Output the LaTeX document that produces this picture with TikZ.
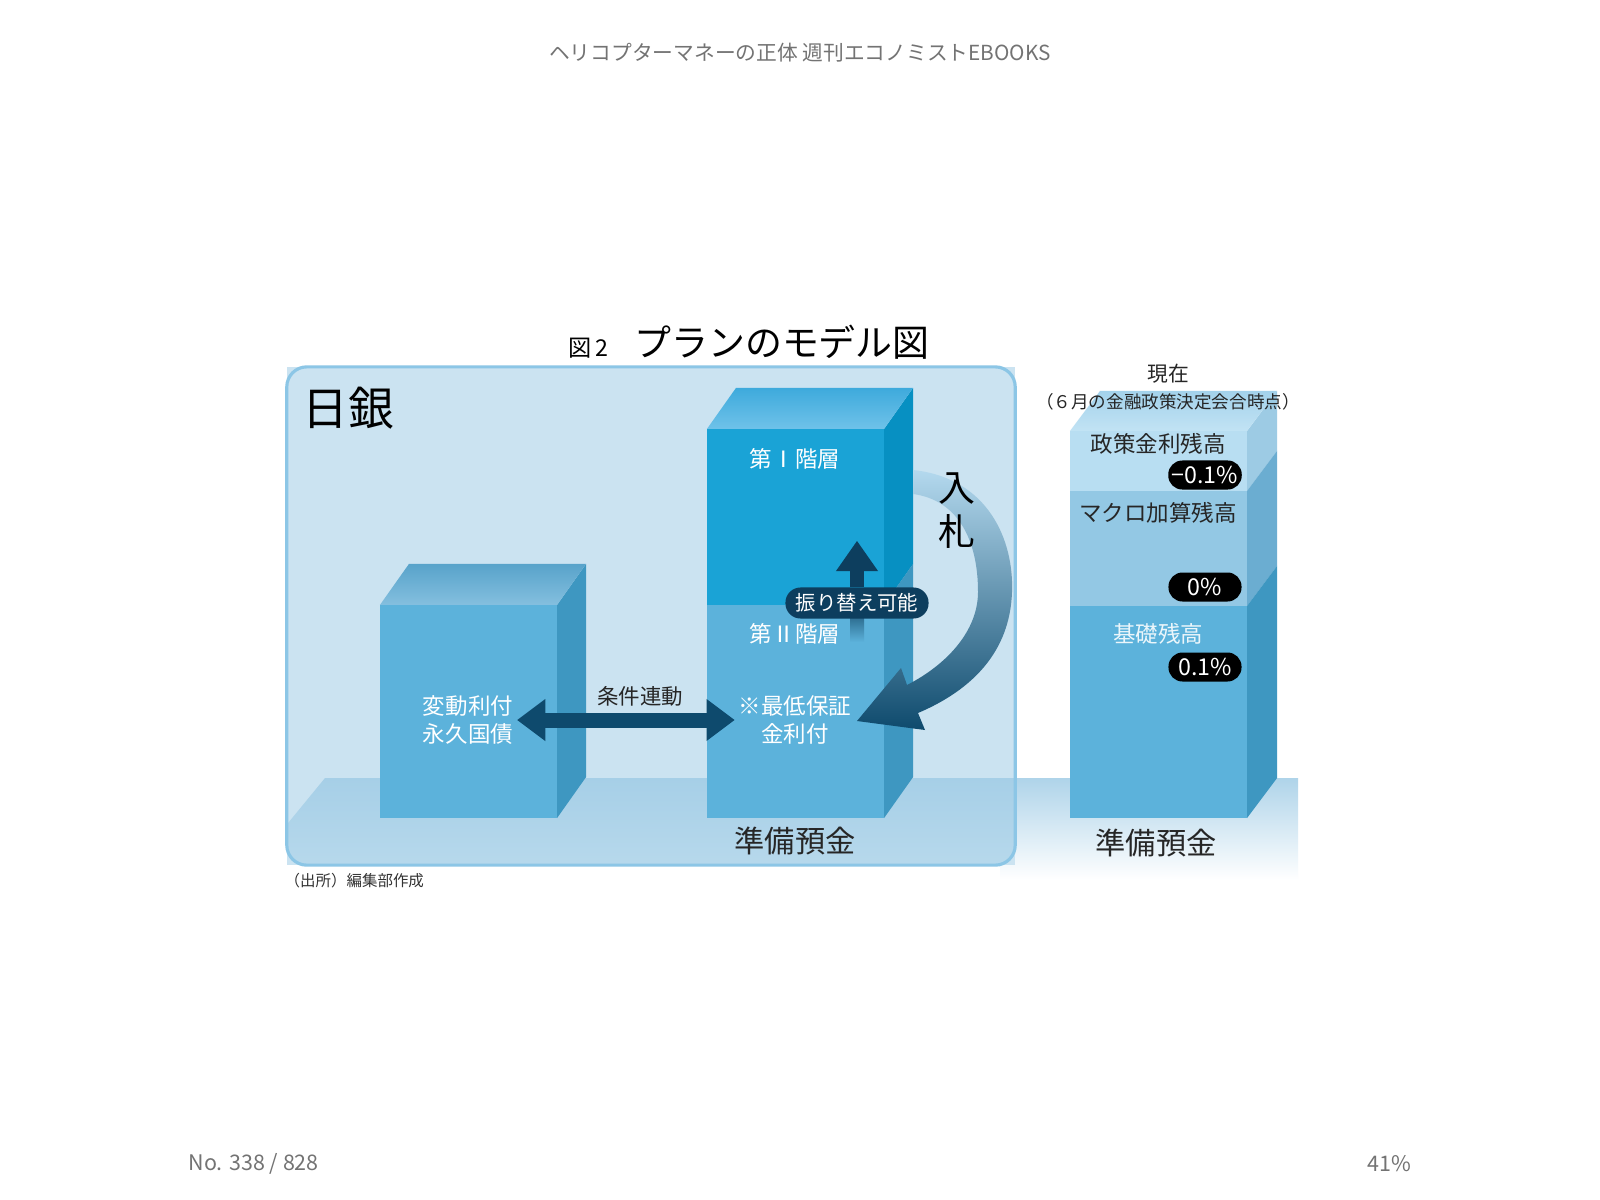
\documentclass[tikz,border=0pt]{standalone}
\usepackage{fontspec}
\setmainfont{Noto Sans CJK JP}
\usetikzlibrary{arrows.meta,positioning,calc}
\definecolor{boxfill}{HTML}{CBE3F1}
\definecolor{boxline}{HTML}{8CC6E6}
\definecolor{floortop}{HTML}{A6CFE7}
\definecolor{floorbot}{HTML}{BFDDEE}
\definecolor{cubefront}{HTML}{5CB2DB}
\definecolor{cubeside}{HTML}{3E97C1}
\definecolor{cubetopback}{HTML}{58A3CA}
\definecolor{cubetopfront}{HTML}{84BFDF}
\definecolor{tierfront}{HTML}{1AA3D6}
\definecolor{tierside}{HTML}{0790C2}
\definecolor{tiertopback}{HTML}{3EAADC}
\definecolor{tiertopfront}{HTML}{6FC2E9}
\definecolor{colafront}{HTML}{B8DEF2}
\definecolor{colaside}{HTML}{9DCBE4}
\definecolor{colbfront}{HTML}{93C8E4}
\definecolor{colbside}{HTML}{6BADD1}
\definecolor{coltopback}{HTML}{A3D2EB}
\definecolor{coltopfront}{HTML}{C2E3F4}
\definecolor{arrnavy}{HTML}{0E4A6D}
\definecolor{pillnavy}{HTML}{0D3E5E}
\definecolor{bidlight}{HTML}{B4D9EE}
\definecolor{bidmid}{HTML}{4A9ACA}
\begin{document}
\begin{tikzpicture}[x=0.01cm, y=-0.01cm,
  face/.style       = {rectangle, inner sep=0pt, outer sep=0pt, minimum width=1.77cm},
  whitelabel/.style = {text=white, font=\fontsize{6.4}{8.2}\selectfont, align=center, inner sep=1pt},
  darklabel/.style  = {text=black!85, font=\fontsize{6.4}{8.2}\selectfont, align=center, inner sep=1pt},
  pill/.style       = {rectangle, rounded corners=0.14cm, fill=black, text=white,
                       minimum width=0.73cm, minimum height=0.29cm, inner sep=1pt,
                       font=\fontsize{6.6}{7}\selectfont},
  basename/.style   = {font=\fontsize{8.6}{9}\selectfont, text=black!85},
  greytext/.style   = {text=black!55, font=\fontsize{5.9}{7}\selectfont},
  fatarr/.style     = {line width=0.15cm, draw=arrnavy,
                       {Triangle[length=0.28cm,width=0.42cm,line width=0pt]}-{Triangle[length=0.28cm,width=0.42cm,line width=0pt]}},
  uparr/.style      = {line width=0.14cm, draw=pillnavy,
                       -{Triangle[length=0.3cm,width=0.42cm,line width=0pt]}}
]
\fill[white] (0,0) rectangle (1600,1200);
\useasboundingbox (0,0) rectangle (1600,1200);

% page header and footer
\node[greytext] (header) at (800,53) {ヘリコプターマネーの正体 週刊エコノミストEBOOKS};
\node[greytext, anchor=west, inner sep=0pt, font=\fontsize{6.1}{7}\selectfont] (pageno) at (188,1164) {No. 338 / 828};
\node[greytext, anchor=east, inner sep=0pt, font=\fontsize{6.1}{7}\selectfont] (percent) at (1412,1164) {41\%};

% floor outside the box
\shade[top color=floortop!90, bottom color=white] (1000,778) rectangle (1298,880);

% BOJ box
\node[face, fill=boxfill, minimum width=7.28cm, minimum height=4.98cm] (bojbox) at (651,616) {};
\begin{scope}
  \clip[rounded corners=0.2cm] (bojbox.south west) rectangle (bojbox.north east);
  \shade[top color=floortop, bottom color=floorbot] (325,778) -- (1100,778) -- (1100,906) -- (220,906) -- cycle;
\end{scope}
\draw[boxline, line width=0.9pt, rounded corners=0.2cm] (bojbox.south west) rectangle (bojbox.north east);

\node[font=\fontsize{10.5}{12}\selectfont, inner sep=0pt] (title) at (782,342) {プランのモデル図};
\node[font=\fontsize{6.6}{7}\selectfont, inner sep=0pt, base left=0.24cm of title] (fignum) {図\,2};
\node[font=\fontsize{13}{14}\selectfont, anchor=west, inner sep=0pt] (boj) at (302,408) {日銀};

% perpetual bond cube
\node[face, minimum height=2.13cm, fill=cubefront] (bond) at (468.5,711.5) {};
\fill[cubeside] (bond.north east) -- ++(29,-41) -- ($(bond.south east)+(29,-41)$) -- (bond.south east) -- cycle;
\shade[top color=cubetopback, bottom color=cubetopfront] (bond.north west) -- ++(29,-41) -- ++(177,0) -- (bond.north east) -- cycle;

% reserve tower
\node[face, minimum height=1.76cm, fill=tierfront] (tierone) at (795.5,517) {};
\node[face, minimum height=2.13cm, fill=cubefront] (tiertwo) at (795.5,711.5) {};
\fill[tierside] (tierone.north east) -- ++(29,-41) -- ($(tierone.south east)+(29,-41)$) -- (tierone.south east) -- cycle;
\fill[cubeside] (tiertwo.north east) -- ++(29,-41) -- ($(tiertwo.south east)+(29,-41)$) -- (tiertwo.south east) -- cycle;
\shade[top color=tiertopback, bottom color=tiertopfront] (tierone.north west) -- ++(29,-41) -- ++(177,0) -- (tierone.north east) -- cycle;

% current column
\node[face, minimum height=0.60cm, fill=colafront] (policy) at (1158.5,461) {};
\node[face, minimum height=1.15cm, fill=colbfront] (macro)  at (1158.5,548.5) {};
\node[face, minimum height=2.12cm, fill=cubefront] (basic)  at (1158.5,712) {};
\fill[colaside] (policy.north east) -- ++(30,-40) -- ($(policy.south east)+(30,-40)$) -- (policy.south east) -- cycle;
\fill[colbside] (macro.north east) -- ++(30,-40) -- ($(macro.south east)+(30,-40)$) -- (macro.south east) -- cycle;
\fill[cubeside] (basic.north east) -- ++(30,-40) -- ($(basic.south east)+(30,-40)$) -- (basic.south east) -- cycle;
\shade[top color=coltopback, bottom color=coltopfront] (policy.north west) -- ++(30,-40) -- ++(177,0) -- (policy.north east) -- cycle;

% labels
\node[whitelabel] (bondlabel) at (468,720) {変動利付\\永久国債};
\node[whitelabel] (minlabel)  at (795,720) {※最低保証\\金利付};
\node[whitelabel] (tieronelabel) at (795,459) {第Ⅰ階層};
\node[whitelabel] (tiertwolabel) at (795,634) {第Ⅱ階層};
\node[darklabel, font=\fontsize{6.1}{7}\selectfont] (linklabel) at (640,696) {条件連動};
\node[basename] (reserveboj) at (795,841) {準備預金};
\node[basename] (reservenow) at (1156,843) {準備預金};
\node[text=black!80, font=\fontsize{4.4}{5}\selectfont, anchor=west, inner sep=0pt] (source) at (284,881) {（出所）編集部作成};

\node[darklabel, font=\fontsize{5.9}{7}\selectfont] (now) at (1168,374) {現在};
\node[darklabel, font=\fontsize{5}{6}\selectfont] (nowdate) at (1168,402) {（６月の金融政策決定会合時点）};
\node[darklabel] (policylabel) at (1158,444) {政策金利残高};
\node[darklabel] (macrolabel)  at (1158,513) {マクロ加算残高};
\node[whitelabel, text=white!88!cubefront] (basiclabel) at (1158,634) {基礎残高};
\node[pill] (policyrate) at (1205,475) {−0.1\%};
\node[pill] (macrorate)  at (1205,587) {0\%};
\node[pill] (basicrate)  at (1205,667) {0.1\%};

% link arrow
\draw[fatarr] (bondlabel.east) -- (minlabel.west);

% transfer arrow
\coordinate (transfertip) at (857,541);
\shade[top color=pillnavy, bottom color=cubefront] (850,600) rectangle (864,642);
\node[pill, fill=pillnavy, minimum width=1.43cm, minimum height=0.31cm, rounded corners=0.15cm,
      font=\fontsize{5.8}{7}\selectfont] (transfer) at (857,603) {振り替え可能};
\draw[uparr] (transfer.north) -- (transfertip);

% bidding arrow
\coordinate (bidtip) at (857,721);
\shade[top color=bidlight, middle color=bidmid, bottom color=arrnavy]
  (913,470) .. controls (988,478) and (1014,540) .. (1012,592)
  .. controls (1010,652) and (972,690) .. (918,713)
  -- (925,730) -- (bidtip) -- (901,668) -- (907,685)
  .. controls (948,664) and (978,630) .. (978,592)
  .. controls (978,540) and (958,500) .. (913,494) -- cycle;
\node[font=\fontsize{10.5}{12.5}\selectfont, align=center, inner sep=0pt] (bid) at (957,511) {入\\札};
\end{tikzpicture}
\end{document}
